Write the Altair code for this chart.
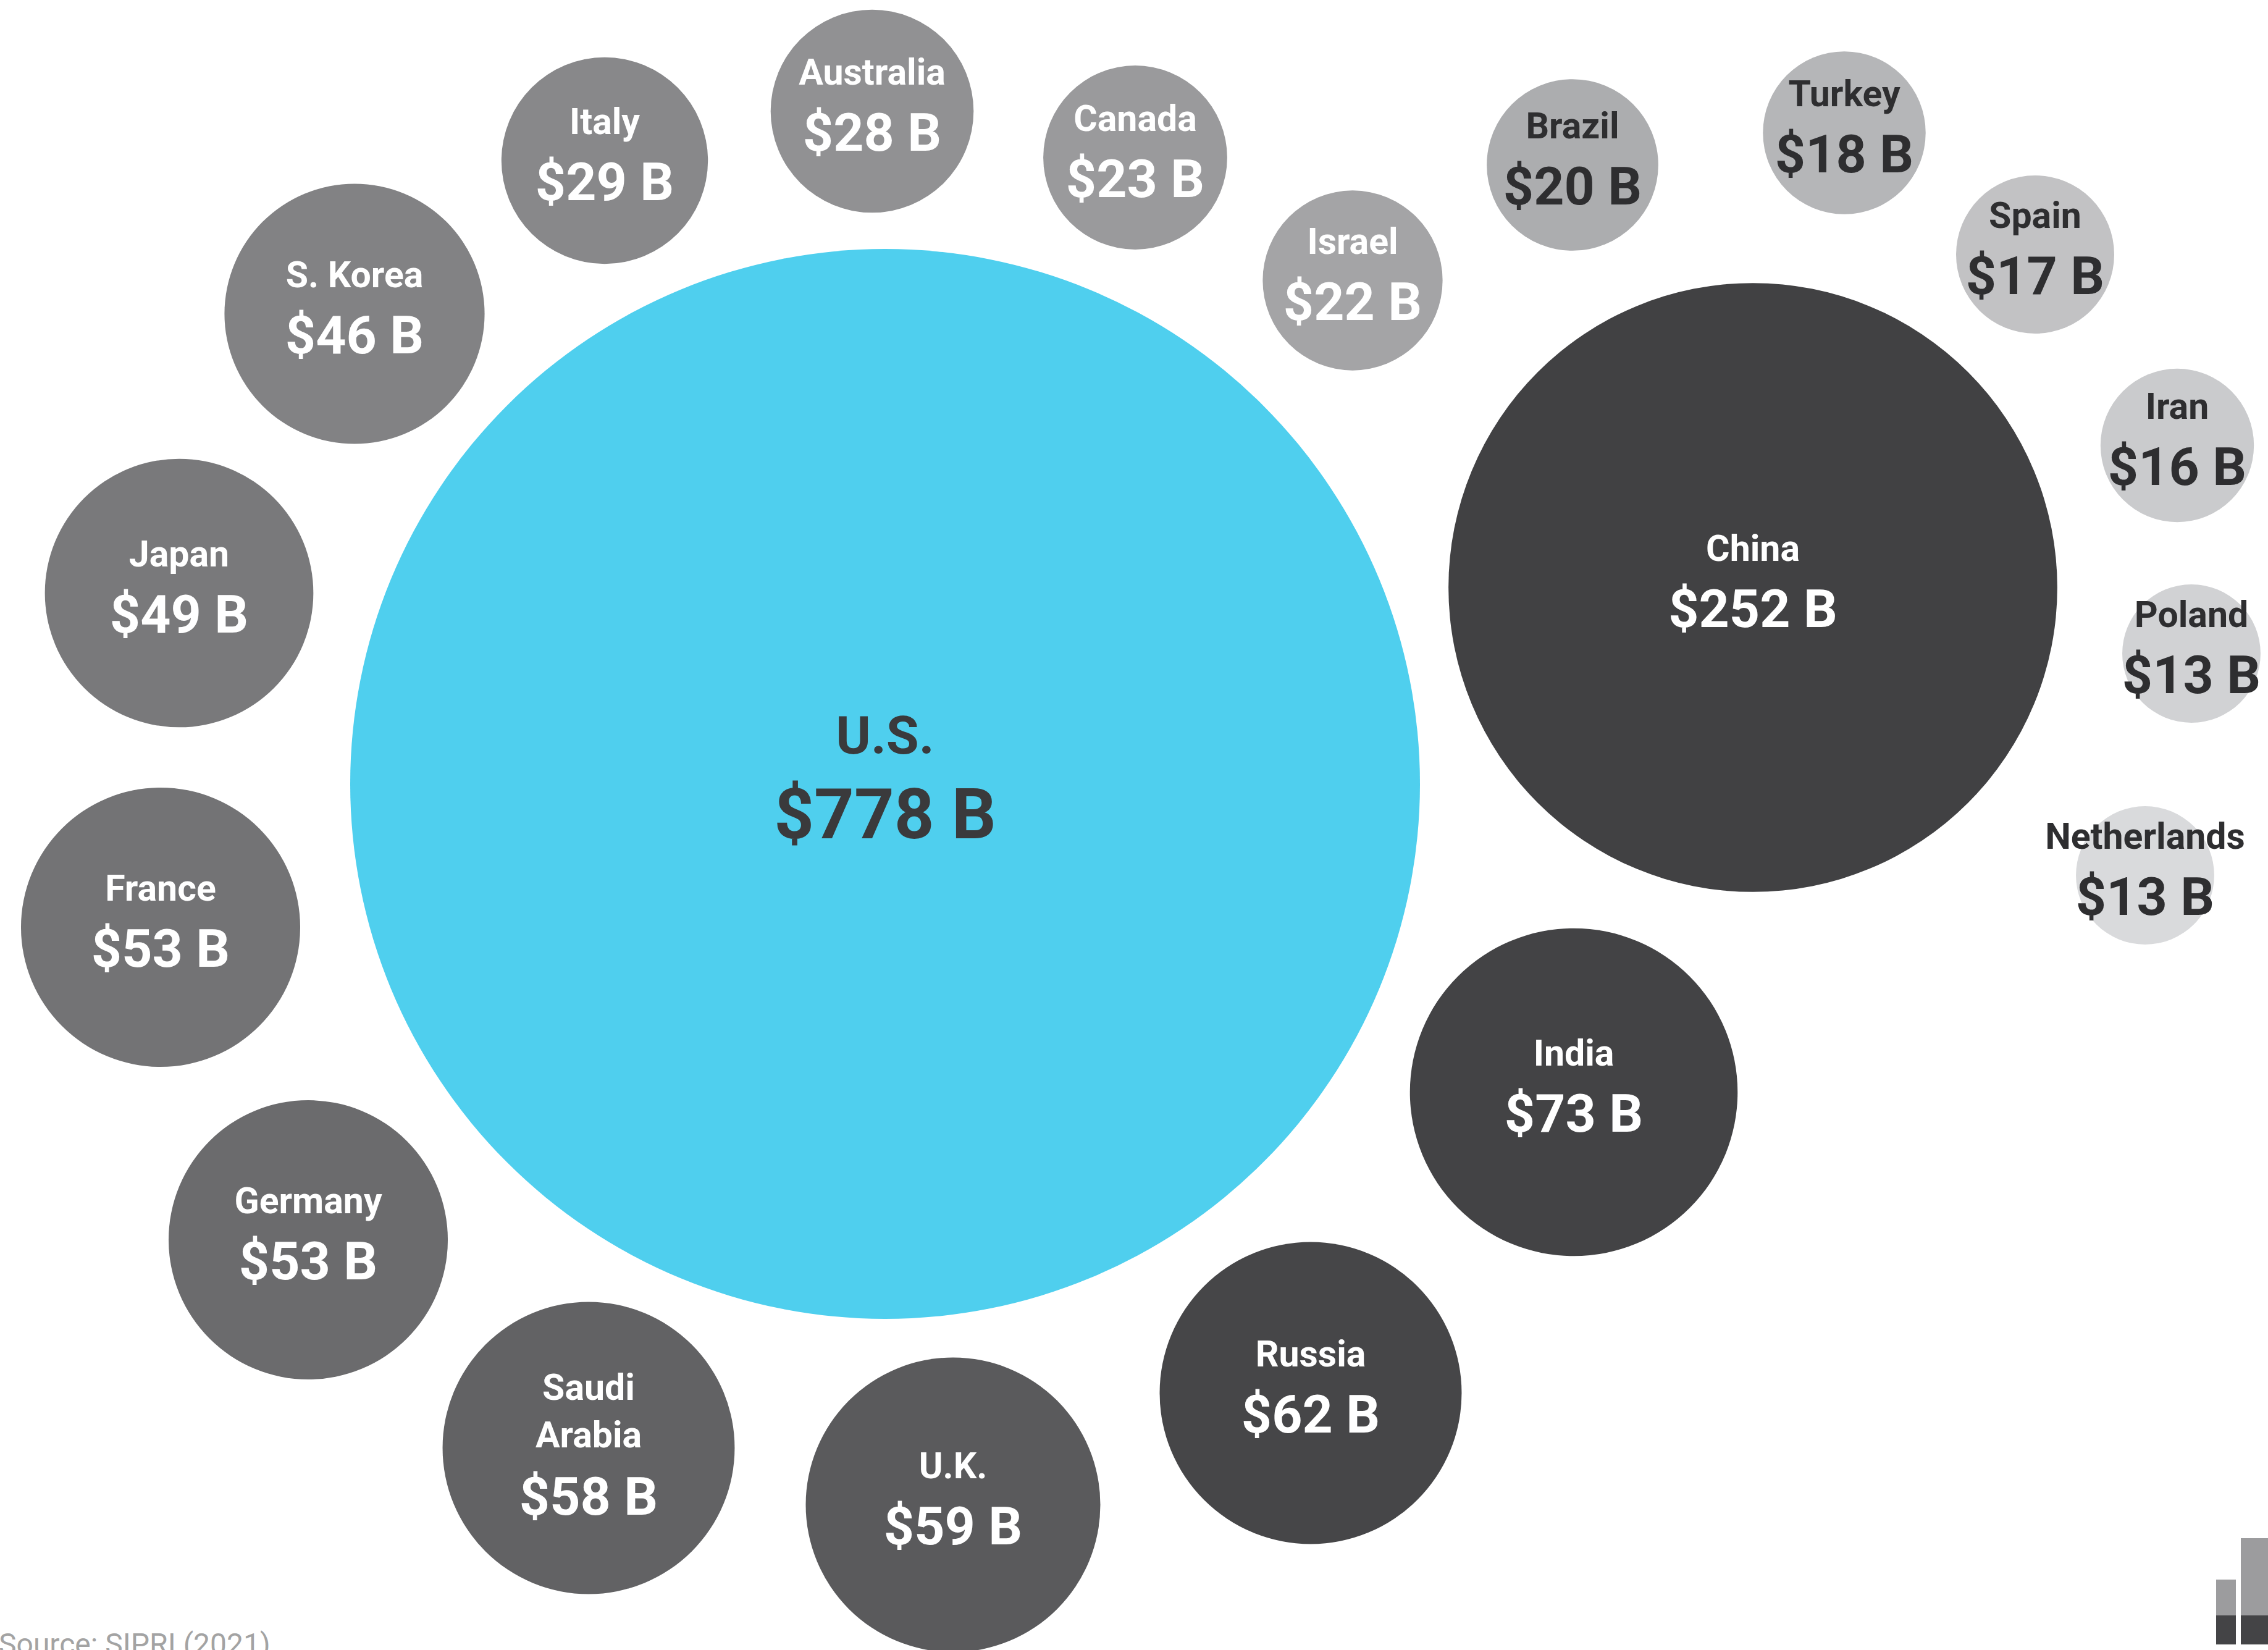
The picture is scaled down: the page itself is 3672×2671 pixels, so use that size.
import altair as alt
import pandas as pd

# ---- data (military spending, US$ billions) ----
countries = ["U.S.", "China", "India", "Russia", "U.K.", "Saudi Arabia", "Germany",
             "France", "Japan", "S. Korea", "Italy", "Australia", "Canada", "Israel",
             "Brazil", "Turkey", "Spain", "Iran", "Poland", "Netherlands"]
spending_bn = [778, 252, 73, 62, 59, 58, 53, 53, 49, 46, 29, 28, 23, 22, 20, 18, 17, 16, 13, 13]
label_names = ["U.S.", "China", "India", "Russia", "U.K.", "Saudi\nArabia", "Germany",
               "France", "Japan", "S. Korea", "Italy", "Australia", "Canada", "Israel",
               "Brazil", "Turkey", "Spain", "Iran", "Poland", "Netherlands"]

# bubble layout (packed-bubble centres, layout units)
layout_x = [143.3, 283.8, 254.8, 212.2, 154.3, 95.3, 49.9, 26.0, 29.0, 57.4,
            97.9, 141.2, 183.8, 219.0, 254.6, 298.6, 329.5, 352.5, 354.8, 347.3]
layout_y = [126.9, 95.1, 176.8, 225.5, 243.6, 234.4, 200.7, 150.1, 96.0, 50.8,
            26.0, 18.0, 25.5, 45.4, 26.7, 21.5, 41.2, 72.1, 105.8, 141.7]

fill_colors = ["#4FCFEE", "#414143", "#434345", "#464648", "#5A5A5C", "#626264",
               "#6B6B6D", "#737375", "#79797B", "#828284", "#88888A", "#919193",
               "#9A9A9C", "#A4A4A6", "#ACADAF", "#B5B6B8", "#C2C2C4", "#CACBCD",
               "#D1D2D4", "#D9DADC"]

source_note = "Source: SIPRI (2021)"

# logo (decorative bars, layout units)
logo_x1 = [358.8, 358.8, 362.8, 362.8]
logo_x2 = [362.0, 362.0, 367.2, 367.2]
logo_y1 = [255.7, 261.5, 249.0, 261.5]
logo_y2 = [261.5, 266.2, 261.5, 266.2]
logo_part = ["light", "dark", "light", "dark"]

W, H = 3672, 2671
XD = [0, 367.2]
YD = [0, 267.1]

df = pd.DataFrame({
    "country": countries,
    "spending": spending_bn,
    "name": label_names,
    "lx": layout_x,
    "ly": layout_y,
})
df["value_label"] = ["$" + str(v) + " B" for v in spending_bn]

xs = alt.Scale(domain=XD, nice=False, zero=False)
ys = alt.Scale(domain=YD, nice=False, zero=False, reverse=True)

base = alt.Chart(df).encode(
    x=alt.X("lx:Q", scale=xs, axis=None),
    y=alt.Y("ly:Q", scale=ys, axis=None),
)

circles = base.mark_circle(opacity=1, stroke=None).encode(
    size=alt.Size("spending:Q",
                  scale=alt.Scale(type="linear", domain=[0, 778], range=[0, 4 * 866 * 866]),
                  legend=None),
    color=alt.Color("country:N", scale=alt.Scale(domain=countries, range=fill_colors),
                    legend=None),
)

txt_color = alt.condition("datum.spending <= 20", alt.value("#2E2E30"), alt.value("#FFFFFF"))
FONT = "Roboto"
WEIGHT = "bold"

names = base.transform_filter(
    "datum.country !== 'U.S.' && datum.country !== 'Saudi Arabia'"
).mark_text(
    font=FONT, fontSize=59, fontWeight=WEIGHT, baseline="middle", align="center", dy=-61,
).encode(text="name:N", color=txt_color)

names_sa = base.transform_filter("datum.country === 'Saudi Arabia'").mark_text(
    font=FONT, fontSize=59, fontWeight=WEIGHT, baseline="middle", align="center",
    dy=-96, lineBreak="\n", lineHeight=77,
).encode(text="name:N", color=txt_color)

values = base.transform_filter(
    "datum.country !== 'U.S.' && datum.country !== 'Saudi Arabia'"
).mark_text(
    font=FONT, fontSize=86, fontWeight=WEIGHT, baseline="middle", align="center", dy=38,
).encode(text="value_label:N", color=txt_color)

values_sa = base.transform_filter("datum.country === 'Saudi Arabia'").mark_text(
    font=FONT, fontSize=86, fontWeight=WEIGHT, baseline="middle", align="center", dy=82,
).encode(text="value_label:N", color=txt_color)

us_name = base.transform_filter("datum.country === 'U.S.'").mark_text(
    font=FONT, fontSize=86, fontWeight=WEIGHT, baseline="middle", align="center", dy=-75,
    color="#3A3A3C",
).encode(text="name:N")

us_value = base.transform_filter("datum.country === 'U.S.'").mark_text(
    font=FONT, fontSize=113, fontWeight=WEIGHT, baseline="middle", align="center", dy=54,
    color="#3A3A3C",
).encode(text="value_label:N")

logo_df = pd.DataFrame({"x1": logo_x1, "x2": logo_x2, "y1": logo_y1, "y2": logo_y2,
                        "part": logo_part})
logo = alt.Chart(logo_df).mark_rect().encode(
    x=alt.X("x1:Q", scale=xs, axis=None), x2="x2:Q",
    y=alt.Y("y1:Q", scale=ys, axis=None), y2="y2:Q",
    color=alt.Color("part:N", scale=alt.Scale(domain=["light", "dark"],
                                              range=["#9C9C9E", "#444446"]), legend=None),
)

source = alt.Chart(pd.DataFrame({"t": [source_note]})).mark_text(
    font=FONT, fontSize=48, align="left", baseline="top", color="#A3A3A3",
).encode(text="t:N", x=alt.value(-2), y=alt.value(2640))

chart = alt.layer(circles, names, names_sa, values, values_sa, us_name, us_value, logo,
                  source).resolve_scale(
    color="independent"
).properties(
    width=W, height=H, padding=0, autosize=alt.AutoSizeParams(type="none"),
    background="#FFFFFF",
).configure_view(stroke=None)

chart.save("out.html", embed_options={"renderer": "svg", "actions": False})
